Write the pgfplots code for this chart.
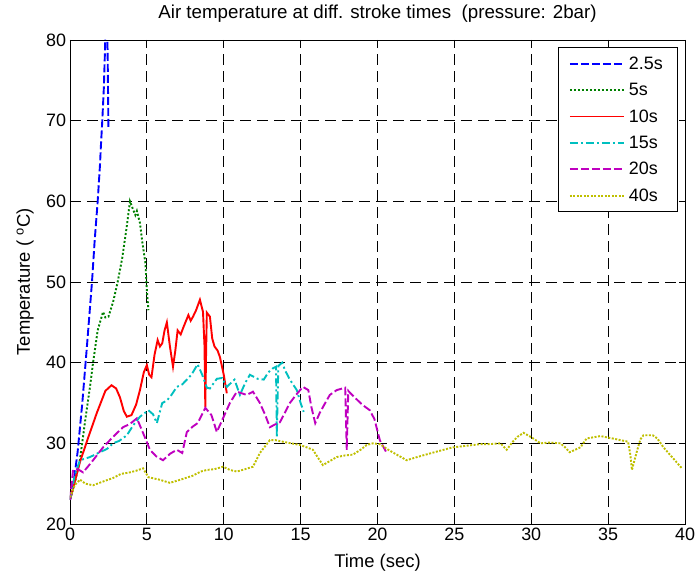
\documentclass[border=0pt]{standalone}
\usepackage{pgfplots}
\pgfplotsset{compat=1.18}
\usepackage{fontspec}
\setmainfont{Liberation Sans}
\definecolor{mblue}{rgb}{0,0,1}
\definecolor{mgreen}{rgb}{0,0.5,0}
\definecolor{mred}{rgb}{1,0,0}
\definecolor{mcyan}{rgb}{0,0.75,0.75}
\definecolor{mmag}{rgb}{0.75,0,0.75}
\definecolor{molive}{rgb}{0.75,0.75,0}
\begin{document}
\begin{tikzpicture}
\begin{axis}[
  name=ax,
  scale only axis,
  width=615bp, height=484bp,
  xmin=0, xmax=40, ymin=20, ymax=80,
  xtick={0,5,...,40}, ytick={20,30,...,80},
  tick align=inside, tick pos=both,
  major tick length=6bp,
  grid=major,
  major grid style={black, dash pattern=on 11bp off 6bp, line width=0.9bp},
  axis line style={black, line width=0.9bp},
  every tick/.style={black, line width=0.9bp},
  /pgf/number format/assume math mode=true,
  ticklabel style={font=\fontsize{18}{21}\selectfont},
  xticklabel style={yshift=-0.5bp},
  yticklabel style={xshift=-0.5bp},
  label style={font=\fontsize{18.5}{21}\selectfont},
  title style={font=\fontsize{18.8}{22}\selectfont, at={(axis description cs:0.5,1.042)}, anchor=center},
  title={Air temperature at diff. stroke times\ \ (pressure: 2bar)},
  xlabel={Time (sec)},
  xlabel style={at={(axis description cs:0.5,-0.081)}, anchor=center},
  ylabel={Temperature ( $^{\mathrm{o}}$C)},
  ylabel style={at={(axis description cs:-0.073,0.5)}, anchor=center},
  legend style={at={(0.989,0.985)}, anchor=north east, draw=black, line width=0.9bp,
     font=\fontsize{18}{21}\selectfont, row sep=8.5bp, inner xsep=11bp, inner ysep=7bp,
     nodes={inner xsep=4bp}},
  legend cell align=left,
  legend image code/.code={\draw[#1] (0bp,0bp) -- (54bp,0bp);},
  every axis plot/.append style={line width=1.9bp},
]
\addplot[mblue, dash pattern=on 8bp off 3bp] coordinates {
(0,23) (0.2,24.6) (0.5,29) (0.8,35) (1.1,42) (1.43,50) (1.6,55) (1.8,60) (1.95,64.5) (2.0,66.5) (2.1,70) (2.2,74) (2.28,79) (2.32,82) (2.4,84) (2.45,78) (2.5,69)
};
\addlegendentry{2.5s}
\addplot[mgreen, dash pattern=on 2bp off 2bp] coordinates {
(0,23) (0.3,25) (0.65,28) (1.0,33) (1.3,37) (1.5,40) (1.8,44) (2.15,46.3) (2.3,45.6) (2.5,45.7) (2.8,47.5) (3.1,50) (3.4,53) (3.7,57) (3.9,60) (4.1,59) (4.25,58.3) (4.35,58.8) (4.55,57.3) (4.7,55) (4.9,52.4) (5.0,49) (5.1,46.5)
};
\addlegendentry{5s}
\addplot[mred] coordinates {
(0,23) (0.65,27.7) (1.2,30.8) (1.75,33.8) (2.3,36.5) (2.7,37.2) (3.0,36.8) (3.25,35.7) (3.5,34) (3.7,33.3) (4.0,33.5) (4.3,34.8) (4.55,36.6) (4.8,38.8) (5.0,39.7) (5.15,38.5) (5.3,38.2) (5.5,41) (5.7,42.8) (5.85,42) (6.0,42.4) (6.15,44) (6.3,45) (6.5,42) (6.7,39.5) (6.85,41.5) (7.0,44) (7.2,43.5) (7.4,44.5) (7.7,45.9) (7.85,45.2) (8.0,45.7) (8.2,46.5) (8.45,47.8) (8.65,46.3) (8.75,42) (8.8,34.5) (8.85,41) (8.9,46.2) (9.1,45.7) (9.25,43) (9.4,42) (9.6,41.5) (9.75,40.7) (10.0,38.5) (10.2,36.2)
};
\addlegendentry{10s}
\addplot[mcyan, dash pattern=on 8bp off 3bp on 2bp off 3bp] coordinates {
(0,23) (0.3,26) (0.65,27.9) (1.3,28.3) (1.95,28.9) (2.4,29.3) (2.8,30) (3.2,30.3) (3.7,31) (4.1,32.2) (4.55,33.3) (5.1,34.1) (5.4,33.6) (5.65,32.5) (6.0,35) (6.3,35.3) (6.6,36) (6.95,37) (7.3,37.3) (7.6,37.9) (7.9,38.5) (8.3,39.8) (8.6,38.5) (8.9,36.9) (9.1,36.8) (9.55,38) (9.9,38.1) (10.2,37) (10.7,37.9) (11.05,36) (11.4,37.5) (11.7,38.5) (12.2,38) (12.6,37.9) (12.9,38.8) (13.2,39.3) (13.4,39.5) (13.45,30.8) (13.55,39.6) (13.8,40) (14.0,39) (14.3,37.9) (14.75,36.6) (15.0,35) (15.2,33.9)
};
\addlegendentry{15s}
\addplot[mmag, dash pattern=on 8bp off 3bp] coordinates {
(0,23) (0.2,26.7) (0.5,26.8) (0.85,26.4) (1.2,27.2) (1.5,27.9) (2.15,29.5) (2.8,30.8) (3.45,32) (3.9,32.4) (4.35,33.1) (4.75,31.3) (5.2,29.2) (5.6,28.4) (6.05,27.9) (6.5,28.7) (6.95,29.2) (7.3,28.8) (7.6,31.4) (8.0,32.1) (8.3,32.5) (8.8,34.4) (9.2,33.5) (9.55,31.4) (9.95,33.1) (10.4,35) (10.85,36.4) (11.5,36) (11.9,36.4) (12.35,35) (12.7,33.5) (13.0,32) (13.3,32.3) (13.65,32.6) (14.3,35) (14.7,36) (15.15,37) (15.5,36.6) (15.7,34.5) (15.95,32.5) (16.25,33.8) (16.6,35) (16.9,36) (17.35,36.6) (17.9,36.9) (18.0,29.2) (18.1,36.5) (18.35,36) (19.0,34.8) (19.5,34.1) (19.8,33) (20.15,30.4) (20.6,28.8)
};
\addlegendentry{20s}
\addplot[molive, dash pattern=on 2bp off 1.5bp] coordinates {
(0,23.3) (0.3,24.8) (0.65,25.5) (1.0,25) (1.5,24.8) (2.2,25.3) (2.8,25.7) (3.3,26.2) (3.9,26.4) (4.3,26.6) (4.75,26.9) (5.1,25.8) (5.8,25.5) (6.5,25.1) (7.2,25.5) (8.0,26) (8.5,26.5) (8.9,26.7) (9.4,26.8) (9.95,27.1) (10.4,26.7) (10.85,26.5) (11.4,26.8) (11.9,27.1) (12.35,28.8) (13.0,30.4) (13.35,30.4) (14.1,30.1) (14.95,29.8) (15.4,29.5) (15.8,29.2) (16.1,28.3) (16.45,27.3) (16.9,27.8) (17.35,28.3) (17.9,28.5) (18.4,28.6) (18.9,29.2) (19.3,29.8) (19.7,30) (20.15,29.9) (20.7,29.2) (21.25,28.6) (21.9,27.9) (22.4,28.2) (22.95,28.5) (23.9,29) (24.9,29.5) (25.8,29.7) (26.7,29.9) (27.3,29.9) (28,30) (28.4,29.2) (28.8,30.2) (29.1,30.8) (29.5,31.3) (30.05,30.7) (30.6,30) (31.2,30.1) (31.9,30) (32.2,29.5) (32.5,28.9) (33.2,29.5) (33.6,30.6) (34.5,30.9) (35.3,30.6) (35.8,30.4) (36.3,30.2) (36.45,28.5) (36.55,26.7) (36.7,27.8) (36.9,29.2) (37.1,30.5) (37.3,31) (37.9,31) (38.2,30.6) (38.6,29.5) (39.2,28.2) (39.8,26.9)
};
\addlegendentry{40s}
\end{axis}
\pgfresetboundingbox
\path[use as bounding box] ([shift={(-70bp,-51bp)}]ax.south west) rectangle ([shift={(11bp,40bp)}]ax.north east);
\end{tikzpicture}
\end{document}
